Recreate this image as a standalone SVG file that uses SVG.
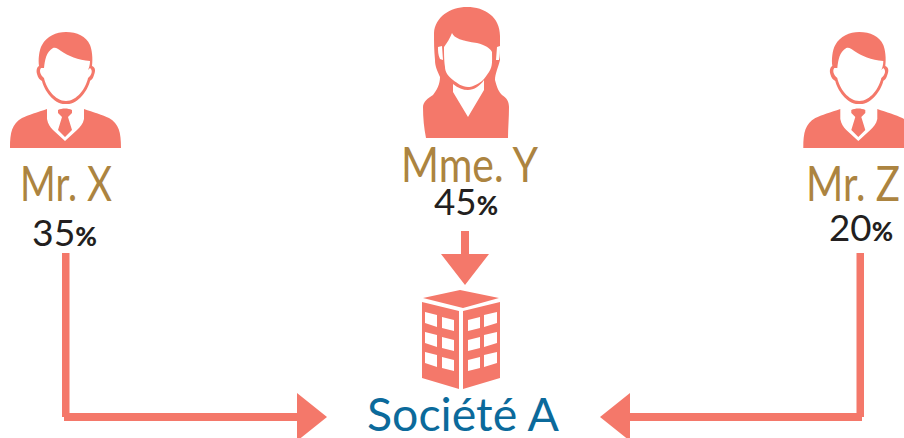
<svg xmlns="http://www.w3.org/2000/svg" width="904" height="438" viewBox="0 0 904 438">
<style>
.s{fill:#f4786a}.w{fill:#fff}
.n{font-family:"Lato","Liberation Sans",sans-serif;font-size:48px;fill:#ac8440}
.p{font-family:"Lato","Liberation Sans",sans-serif;font-size:37px;fill:#231f20}
.p tspan{font-size:26px;font-weight:900}
.c{font-family:"Lato","Liberation Sans",sans-serif;font-size:47px;fill:#0b6a9b}
</style>
<defs>
<g id="man">
<path class="s" d="M39,66C38,60 39,50 42,45C47,36 56,32 66,32C77,32 86,36 90,45C92,50 93,58 92,66C95,67 96,70 94,75C93,79 91,80 90,81C88,90 78,105 66,104C54,105 44,90 42,81C40,80 38,78 37,74C36,70 37,67 39,66Z"/>
<path class="w" d="M44,68C45,60 46,52 53,48C56,47 58,49 61,51C68,56 78,60 90,61C90,65 89,68 88,70L90,68C93,70 92,75 88,78C86,88 77,101 66,101C55,101 46,88 44,78C40,75 39,70 41,68Z"/>
<path class="s" d="M10,148C10,132 12,124 22,118C28,115 38,112 47,109V119C48,124 50,127 53,130L65,141L77,130C80,127 83,124 84,119V109C93,112 103,115 109,118C119,124 121,132 121,148Z"/>
<path class="s" d="M58,110C62,108 68,108 72,110L72,113L68,117L72,130L65,137L58,130L62,117L58,113Z"/>
</g>
</defs>
<g id="connectors" class="s">
<path id="arrow-x" d="M62,253H69.500V413H297V393L327,417L297,441V421H64V417H62Z"/>
<path id="arrow-y" d="M461,231H469V254H489L465,285L441,254H461Z"/>
<path id="arrow-z" d="M856.500,253H864V417H862V421H630V441L600,417L630,393V413H856.500Z"/>
</g>
<g id="mr-x">
<use href="#man"/>
<text class="n" x="20" y="201" textLength="92" lengthAdjust="spacingAndGlyphs">Mr. X</text>
<text class="p" x="32" y="246" textLength="65" lengthAdjust="spacingAndGlyphs">35<tspan>%</tspan></text>
</g>
<g id="mme-y">
<path class="s" d="M467,7C485,7 500,17 500,36C500,45 500,52 500,60C498,68 495,74 495,80C497,88 499,92 502,95C507,98 509,102 509,107C509,118 508,128 508,138H426C424,128 423,118 423,107C423,102 428,98 433,95C437,90 440,84 440,77C437,70 435,66 435,60C434,50 434,42 434,33C435,17 450,7 467,7Z"/>
<path class="w" d="M452,33C454,38 462,41 477,43C485,45 490,48 492,52C492,60 493,66 489,72C486,76 485,78 482,81C476,85 472,87 468,87C462,87 457,83 453,80C448,76 445,72 445,67C444,60 444,52 444,47C447,43 450,38 452,33Z"/>
<path class="w" d="M438,47L442,46L443,60L440,59C438,55 438,51 438,47ZM497,47L500,46C500,51 500,56 499,60L496,60Z"/>
<path class="w" d="M453,84C458,88 463,90 468,90C474,90 480,86 484,80V90L468,117L453,92Z"/>
<text class="n" x="401" y="182" textLength="137" lengthAdjust="spacingAndGlyphs">Mme. Y</text>
<text class="p" x="434" y="215" textLength="64" lengthAdjust="spacingAndGlyphs">45<tspan>%</tspan></text>
</g>
<g id="mr-z">
<use href="#man" x="793.300"/>
<text class="n" x="806" y="201" textLength="94" lengthAdjust="spacingAndGlyphs">Mr. Z</text>
<text class="p" x="829" y="241" textLength="64" lengthAdjust="spacingAndGlyphs">20<tspan>%</tspan></text>
</g>
<g id="societe-a">
<path class="s" d="M423,298L460,290L499,298L463,308Z"/>
<path class="s" fill-rule="evenodd" d="M422,302L459,311V389L422,378ZM425,312L437,315V327L425,323ZM442,317L454,320V331L442,328ZM425,332L437,335V347L425,343ZM442,337L454,340V351L442,348ZM425,352L437,355V367L425,363ZM442,357L454,360V371L442,368Z"/>
<path class="s" fill-rule="evenodd" d="M463,311L500,302V378L463,389ZM468,320L480,317V328L468,331ZM484,315L497,312V323L484,327ZM468,340L480,337V348L468,351ZM484,335L497,332V343L484,347ZM468,360L480,357V368L468,371ZM484,355L497,352V363L484,367Z"/>
<text class="c" x="367" y="431" textLength="192" lengthAdjust="spacingAndGlyphs">Société A</text>
</g>
</svg>
